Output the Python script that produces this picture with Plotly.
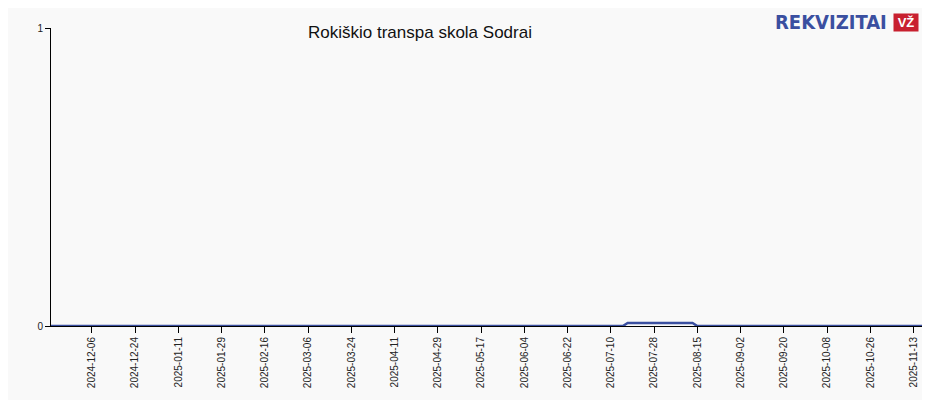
import plotly.graph_objs as go

dates = ["2024-11-19", "2025-07-15", "2025-07-17", "2025-08-13", "2025-08-15", "2025-11-19"]
values = [0, 0, 0.01, 0.01, 0, 0]
tick_dates = ["2024-12-06", "2024-12-24", "2025-01-11", "2025-01-29", "2025-02-16", "2025-03-06",
              "2025-03-24", "2025-04-11", "2025-04-29", "2025-05-17", "2025-06-04", "2025-06-22",
              "2025-07-10", "2025-07-28", "2025-08-15", "2025-09-02", "2025-09-20", "2025-10-08",
              "2025-10-26", "2025-11-13"]

fig = go.Figure()
fig.add_trace(go.Scatter(
    x=dates, y=values, mode="lines",
    line=dict(color="#3a4fa0", width=2.5),
    hoverinfo="x+y"
))

fig.update_layout(
    width=930, height=400,
    margin=dict(l=43, r=10, t=20, b=82),
    paper_bgcolor="#f9f9f9", plot_bgcolor="#f9f9f9",
    showlegend=False,
    font=dict(family="Liberation Sans, Arial", size=11, color="#222"),
    title=dict(text="Rokiškio transpa skola Sodrai", x=0.443, y=0.955,
               xanchor="center", font=dict(size=17, color="#111")),
    xaxis=dict(range=["2024-11-19", "2025-11-19"], tickvals=tick_dates, ticktext=tick_dates,
               tickangle=-90, ticks="outside", ticklen=6, tickcolor="#000",
               showgrid=False, showline=True, linecolor="#000", linewidth=1,
               tickfont=dict(size=10)),
    yaxis=dict(range=[0, 1], tickvals=[0, 1], ticks="outside", ticklen=5, tickcolor="#000",
               showline=True, linecolor="#000", linewidth=1, zeroline=False,
               gridcolor="#e8e8e8", tickfont=dict(size=10)),
)

fig.add_annotation(text="<b>REKVIZITAI</b>", xref="paper", yref="paper", x=0.955, y=1.02,
                   xanchor="right", yanchor="middle", showarrow=False,
                   font=dict(family="DejaVu Sans Condensed, Liberation Sans Narrow", size=20, color="#3a4fa0"))
fig.add_annotation(text="<b>VŽ</b>", xref="paper", yref="paper", x=0.96, y=1.02,
                   xanchor="left", yanchor="middle", showarrow=False, bgcolor="#c8202f",
                   font=dict(family="Liberation Sans", size=13, color="white"), width=22)

fig.write_html("out.html")
